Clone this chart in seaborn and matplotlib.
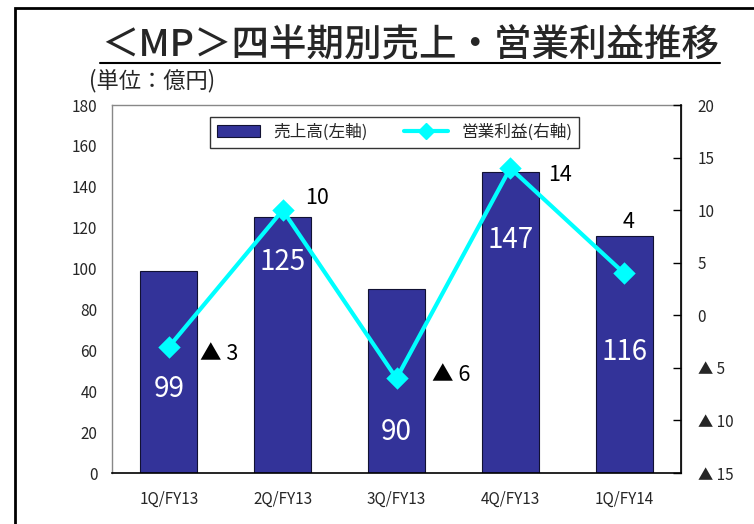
import seaborn as sns
import matplotlib.pyplot as plt
from matplotlib.patches import Rectangle, Patch
from matplotlib.lines import Line2D
import numpy as np

quarters = ["1Q/FY13", "2Q/FY13", "3Q/FY13", "4Q/FY13", "1Q/FY14"]
sales = [99, 125, 90, 147, 116]
profit = [-3, 10, -6, 14, 4]
sales_ticks = [0, 20, 40, 60, 80, 100, 120, 140, 160, 180]
profit_ticks = [-15, -10, -5, 0, 5, 10, 15, 20]
profit_tick_labels = ["▲ 15", "▲ 10", "▲ 5", "0", "5", "10", "15", "20"]
profit_labels = ["▲ 3", "10", "▲ 6", "14", "4"]

sns.set_theme(style="white")
plt.rcParams['font.family'] = ['Noto Sans CJK JP', 'DejaVu Sans']

bar_color = "#333399"
line_color = "#00FFFF"

fig = plt.figure(figsize=(7.54, 5.24), dpi=100)
ax = fig.add_axes([112 / 754, 1 - 473 / 524, 569 / 754, 368 / 524])

sns.barplot(x=quarters, y=sales, ax=ax, color=bar_color, width=0.5,
            edgecolor="#111133", linewidth=0.8, saturation=1)
ax.set_ylim(0, 180)
ax.set_xlim(-0.5, 4.5)
ax.set_yticks(sales_ticks)
ax.tick_params(axis="y", length=0, labelsize=11, pad=10.5)
ax.tick_params(axis="x", length=0, labelsize=11, pad=13)
ax.set_xticks(np.arange(0.5, 4.5, 1), minor=True)
ax.tick_params(axis="x", which="minor", direction="in", length=6, color="black", width=1)
for s in ["left", "top", "right"]:
    ax.spines[s].set_color("#888888")
    ax.spines[s].set_linewidth(1)
ax.spines["bottom"].set_color("black")
ax.spines["bottom"].set_linewidth(1.2)

# sales labels inside bars (white)
sales_label_y = [41, 103, 20, 114, 59]
for i, v in enumerate(sales):
    ax.text(i, sales_label_y[i], str(v), color="white", fontsize=20,
            ha="center", va="center")

ax2 = ax.twinx()
sns.pointplot(x=quarters, y=profit, ax=ax2, color=line_color, markers="D",
              markersize=9, linewidth=3)
ax2.set_xlim(-0.5, 4.5)
ax2.set_ylim(-15, 20)
ax2.set_yticks(profit_ticks)
ax2.set_yticklabels(profit_tick_labels)
ax2.set_ylabel("")
ax2.tick_params(axis="y", direction="in", length=6, width=1, color="black",
                labelsize=11, pad=12)
ax2.spines["right"].set_color("black")
ax2.spines["right"].set_linewidth(1.2)
for s in ["left", "top", "bottom"]:
    ax2.spines[s].set_visible(False)

# profit labels
label_offsets = [(0.27, -0.7), (0.2, 1.15), (0.31, 0.3), (0.33, -0.7), (0.04, 4.9)]
for i, (txt, v) in enumerate(zip(profit_labels, profit)):
    dx, dy = label_offsets[i]
    ax2.text(i + dx, v + dy, txt, color="black", fontsize=15.5,
             ha="left" if i != 4 else "center", va="center")

# legend
handles = [Patch(facecolor=bar_color, edgecolor="#111133", linewidth=0.8),
           Line2D([0], [0], color=line_color, lw=3, marker="D", markersize=8)]
leg = ax2.legend(handles, ["売上高(左軸)", "営業利益(右軸)"], loc="upper left",
                 bbox_to_anchor=(98 / 569, 1 - 12 / 368), ncol=2, fontsize=12,
                 frameon=True, fancybox=False, edgecolor="black",
                 handlelength=2.6, columnspacing=2.2, borderpad=0.4,
                 borderaxespad=0)
leg.get_frame().set_linewidth(1)

# title and unit
fig.text(410 / 754, 1 - 44 / 524, "＜MP＞四半期別売上・営業利益推移", fontsize=27,
         fontweight="medium", ha="center", va="center")
fig.add_artist(Line2D([100 / 754, 720 / 754], [1 - 63 / 524, 1 - 63 / 524],
                      color="black", lw=1.5))
fig.text(89 / 754, 1 - 81 / 524, "(単位：億円)", fontsize=16, ha="left", va="center")

# outer frame
fig.add_artist(Rectangle((15 / 754, -0.1), 1.2, 1 - 8 / 524 + 0.1, fill=False,
                         edgecolor="black", lw=2, transform=fig.transFigure))

fig.savefig("out.png", dpi=100)
